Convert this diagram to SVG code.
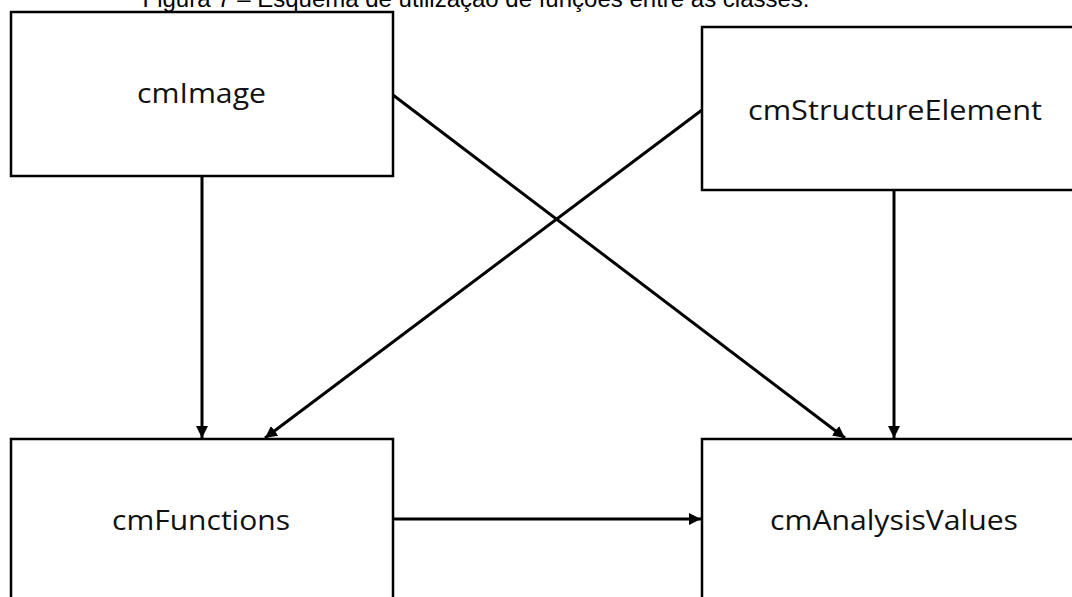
<svg xmlns="http://www.w3.org/2000/svg" width="1072" height="597" viewBox="0 0 1072 597">
<style>
.box{fill:#fff;stroke:#000;stroke-width:2.5}
.lbl{font-family:"Open Sans","Liberation Sans",sans-serif;font-size:28px;fill:#111;text-anchor:middle}
.title{font-family:"Liberation Sans",Arial,sans-serif;font-size:24px;fill:#000;text-anchor:middle}
.conn{stroke:#000;stroke-width:3;fill:none;marker-end:url(#ah)}
</style>
<defs>
<marker id="ah" markerWidth="4" markerHeight="4" refX="4" refY="2" orient="auto" markerUnits="strokeWidth">
<path d="M0,0 L4,2 L0,4 Z" fill="#000"/>
</marker>
</defs>
<rect width="1072" height="597" fill="#fff"/>
<text class="title" x="476" y="7">Figura 7 – Esquema de utilização de funções entre as classes.</text>
<g id="cmImage">
<rect class="box" x="11" y="12" width="382" height="164"/>
<text class="lbl" x="201.5" y="103" textLength="129" lengthAdjust="spacingAndGlyphs">cmImage</text>
</g>
<g id="cmStructureElement">
<rect class="box" x="702" y="27" width="390" height="163"/>
<text class="lbl" x="895" y="120" textLength="294" lengthAdjust="spacingAndGlyphs">cmStructureElement</text>
</g>
<g id="cmFunctions">
<rect class="box" x="11" y="439" width="382" height="170"/>
<text class="lbl" x="201" y="530" textLength="178" lengthAdjust="spacingAndGlyphs">cmFunctions</text>
</g>
<g id="cmAnalysisValues">
<rect class="box" x="702" y="439" width="390" height="170"/>
<text class="lbl" x="894" y="530" textLength="248" lengthAdjust="spacingAndGlyphs">cmAnalysisValues</text>
</g>
<g id="connectors">
<line class="conn" x1="202" y1="177" x2="202" y2="438"/>
<line class="conn" x1="894" y1="191" x2="894" y2="438"/>
<line class="conn" x1="394" y1="519" x2="701" y2="519"/>
<line class="conn" x1="393" y1="95" x2="845" y2="438"/>
<line class="conn" x1="702" y1="110" x2="265" y2="438"/>
</g>
</svg>
